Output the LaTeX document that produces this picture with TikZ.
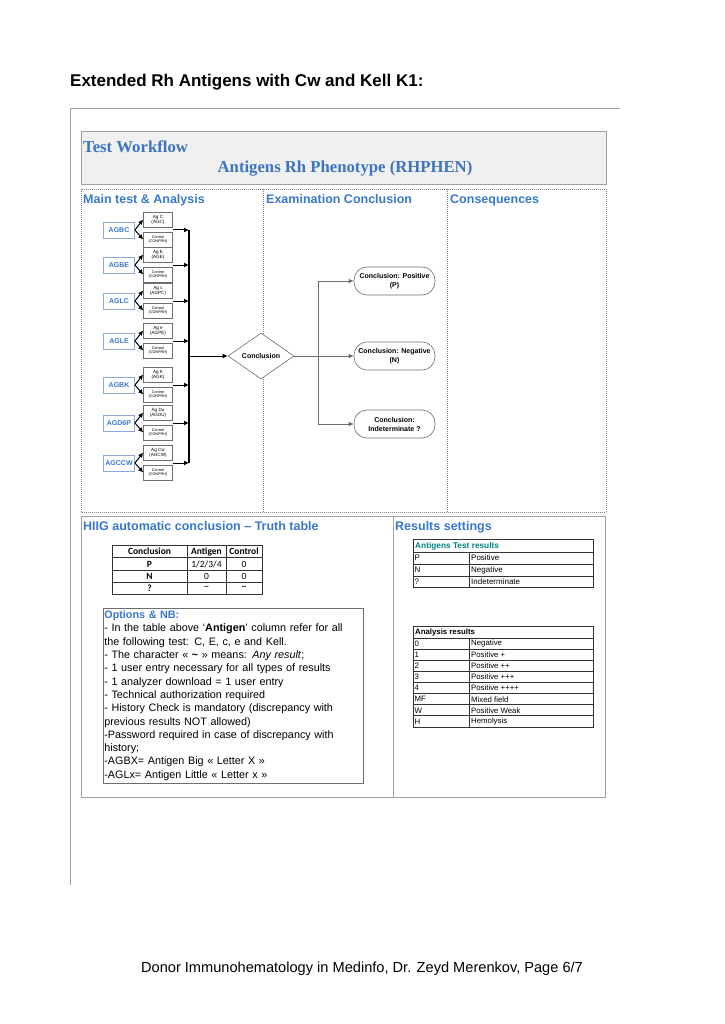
\documentclass[tikz,border=0pt]{standalone}
\usepackage{fontspec}
\setmainfont{Liberation Sans}
\newfontfamily\timesf{Liberation Serif}
\newfontfamily\carl{Carlito}
\usetikzlibrary{shapes.geometric,arrows.meta,calc}
\definecolor{hblue}{RGB}{55,120,205}
\definecolor{tblue}{RGB}{60,115,195}
\definecolor{framec}{RGB}{160,160,160}
\definecolor{agb}{RGB}{140,170,215}
\definecolor{myteal}{RGB}{0,128,128}
\definecolor{lgray}{RGB}{110,110,110}
\begin{document}
\begin{tikzpicture}[x=1pt,y=-1pt,
  agbox/.style={draw=agb, line width=0.8pt, text=hblue, font=\bfseries\fontsize{7}{8}\selectfont, minimum width=31pt, minimum height=16pt, inner sep=0pt},
  tstbox/.style={draw=lgray, line width=0.6pt, align=center, minimum width=29pt, minimum height=15pt, inner sep=0pt},
  agtxt/.style={font=\fontsize{4.6}{5.2}\selectfont},
  cttxt/.style={font=\fontsize{3.8}{4.6}\selectfont},
  concl/.style={draw=lgray, line width=0.6pt, rounded corners=13pt, minimum width=81pt, minimum height=28pt, inner sep=1pt, align=center, font=\bfseries\fontsize{7}{9}\selectfont},
  arr/.style={-{Latex[length=5pt,width=5pt]}, line width=1pt},
  garr/.style={-{Latex[length=5pt,width=4.5pt]}, draw=lgray, line width=0.6pt},
  gline/.style={draw=lgray, line width=0.6pt},
  head/.style={text=hblue, font=\bfseries\fontsize{12.5}{14}\selectfont, anchor=base west, inner sep=0pt},
  tbl/.style={draw=black!80, line width=0.8pt},
  dots/.style={draw=gray, line width=0.5pt, dash pattern=on 1pt off 1pt},
  frm/.style={draw=framec, line width=0.8pt},
  ttx/.style={font=\carl\fontsize{9.5}{11}\selectfont, inner sep=0pt},
  ttb/.style={font=\carl\bfseries\fontsize{9.5}{11}\selectfont, inner sep=0pt},
  rtx/.style={font=\fontsize{8}{9}\selectfont, inner sep=0pt, anchor=west},
  atx/.style={font=\fontsize{7.8}{9}\selectfont, inner sep=0pt, anchor=west},
]
\useasboundingbox (0,0) rectangle (724,1024);

% page title
\node[anchor=base west, inner sep=0pt, font=\bfseries\fontsize{17}{20}\selectfont] (title) at (70,87) {Extended Rh Antigens with Cw and Kell K1:};

% outer frame
\draw[frm] (620,108) -- (70,108) -- (70,885);

% header box
\node[draw=framec, line width=0.8pt, fill=gray!12, anchor=north west, minimum width=525pt, minimum height=53pt, inner sep=0pt] (hdr) at (81,131) {};
\node[anchor=base west, inner sep=0pt, text=tblue, font=\timesf\bfseries\fontsize{16.7}{19}\selectfont] (tw) at (83,153) {Test Workflow};
\node[anchor=base, inner sep=0pt, text=tblue, font=\timesf\bfseries\fontsize{16.7}{19}\selectfont] (rh) at (345,173) {Antigens Rh Phenotype (RHPHEN)};

% dotted columns
\draw[dots] (81,189) rectangle (606,512);
\draw[dots] (263,189) -- (263,512);
\draw[dots] (447,189) -- (447,512);
\node[head] (h1) at (83,203.5) {Main test \& Analysis};
\node[head] (h2) at (266,203.5) {Examination Conclusion};
\node[head] (h3) at (450,203.5) {Consequences};

% workflow
\coordinate (bus) at (189,0);
\foreach \n/\g/\a/\c in {AGBC/230/Ag C/AGC, AGBE/265/Ag E/AGE, AGLC/301/Ag c/AGPC, AGLE/341/Ag e/AGPE, AGBK/385/Ag K/AGK, AGD6P/423/Ag Du/AGDU, AGCCW/463/Ag Cw/AGCW}{
  \node[agbox] (\n) at (119,\g) {\n};
  \node[tstbox, agtxt] (ag\n) at (158,\g-10.5) {\a\\(\c)};
  \node[tstbox, cttxt] (ct\n) at (158,\g+9.5) {Control\\(CONPRH)};
  \draw[arr] (\n.east) -- (ag\n.west);
  \draw[arr] (\n.east) -- (ct\n.west);
  \draw[arr] (ag\n.east |- \n.east) -- (bus |- \n.east);
}
\draw[line width=1.1pt] (bus |- AGBC.east) -- (bus |- AGCCW.east);

\node[concl] (pos) at (394.5,281) {Conclusion: Positive\\(P)};
\node[concl] (neg) at (394.5,356) {Conclusion: Negative\\(N)};
\node[concl] (ind) at (394.5,424) {Conclusion:\\Indeterminate ?};

\node[diamond, draw=lgray, line width=0.6pt, fill=white, minimum width=66pt, minimum height=46pt, inner sep=0pt, font=\bfseries\fontsize{7}{8}\selectfont] (dia) at (261,356) {Conclusion};
\draw[arr] (bus |- dia.west) -- (dia.west);
\coordinate (sp) at (318,356);
\draw[gline] (dia.east) -- (sp);
\draw[garr] (sp) |- (pos.west);
\draw[garr] (dia.east) -- (neg.west);
\draw[garr] (sp) |- (ind.west);

% bottom section
\draw[frm] (81,516) rectangle (605,797);
\draw[frm] (393,516) -- (393,797);
\node[head] (h4) at (83,530.5) {HIIG automatic conclusion -- Truth table};
\node[head] (h5) at (395,530.5) {Results settings};

% truth table
\draw[tbl] (112,545) rectangle (262,594);
\foreach \y in {557.5,570,582} \draw[tbl] (112,\y) -- (262,\y);
\foreach \x in {187,226} \draw[tbl] (\x,545) -- (\x,594);
\node[ttb] (tc1) at (149.5,551.5) {Conclusion};
\node[ttb] (tc2) at (206.5,551.5) {Antigen};
\node[ttb] (tc3) at (244,551.5) {Control};
\node[ttb] (tp) at (149.5,564) {P};
\node[ttx] (tp2) at (206.5,564) {1/2/3/4};
\node[ttx] (tp3) at (244,564) {0};
\node[ttb] (tn) at (149.5,576) {N};
\node[ttx] (tn2) at (206.5,576) {0};
\node[ttx] (tn3) at (244,576) {0};
\node[ttb] (tq) at (149.5,588.5) {?};
\node[ttx] (tq2) at (206.5,588) {\textasciitilde};
\node[ttx] (tq3) at (244,588) {\textasciitilde};

% options box
\node[draw=lgray, line width=0.7pt, anchor=north west, inner xsep=1pt, inner ysep=2.5pt, text width=258pt, minimum height=174pt, align=left, font=\fontsize{10.8}{13.3}\selectfont] (opt) at (103,608) {%
{\color{hblue}\bfseries Options \& NB:}\\
- In the table above ‘\textbf{Antigen}’ column refer for all\\
the following test: C, E, c, e and Kell.\\
- The character « \textbf{\textasciitilde} » means: \textit{Any result};\\
- 1 user entry necessary for all types of results\\
- 1 analyzer download = 1 user entry\\
- Technical authorization required\\
- History Check is mandatory (discrepancy with\\
previous results NOT allowed)\\
-Password required in case of discrepancy with\\
history;\\
-AGBX= Antigen Big « Letter X »\\
-AGLx= Antigen Little « Letter x »};

% antigens test results
\draw[tbl] (413,539) rectangle (593,587);
\foreach \y in {552,564,576} \draw[tbl] (413,\y) -- (593,\y);
\draw[tbl] (469,552) -- (469,587);
\node[rtx, text=myteal, font=\bfseries\fontsize{8.3}{9}\selectfont] (atr) at (415,546) {Antigens Test results};
\node[rtx] (r1a) at (414.5,558) {P};
\node[rtx] (r1b) at (471,558) {Positive};
\node[rtx] (r2a) at (414.5,570) {N};
\node[rtx] (r2b) at (471,570) {Negative};
\node[rtx] (r3a) at (414.5,581.5) {?};
\node[rtx] (r3b) at (471,581.5) {Indeterminate};

% analysis results
\draw[tbl] (413,626) rectangle (593,727);
\foreach \k in {0,...,7} \draw[tbl] (413,638+\k*11.125) -- (593,638+\k*11.125);
\draw[tbl] (469,638) -- (469,727);
\node[atx, font=\bfseries\fontsize{7.8}{9}\selectfont] (anr) at (415,632) {Analysis results};
\foreach \a/\b [count=\i from 0] in {0/Negative, 1/Positive +, 2/Positive ++, 3/Positive +++, 4/Positive ++++, MF/Mixed field, W/Positive Weak, H/Hemolysis}{
  \node[atx] (ra\i) at (414.5,643.6+\i*11.125) {\a};
  \node[atx] (rb\i) at (471,643.6+\i*11.125) {\b};
}

% footer
\node[anchor=base, inner sep=0pt, font=\fontsize{14.6}{17}\selectfont] (foot) at (362,972) {Donor Immunohematology in Medinfo, Dr. Zeyd Merenkov, Page 6/7};
\end{tikzpicture}
\end{document}
